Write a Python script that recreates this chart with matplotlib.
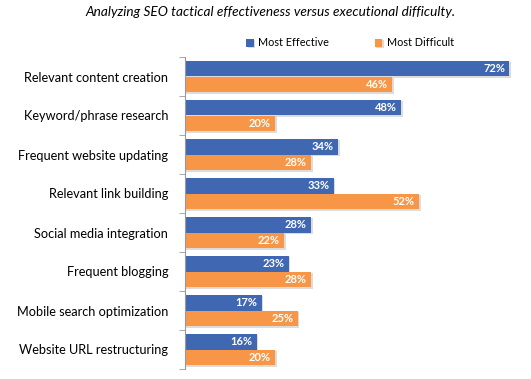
import matplotlib
matplotlib.use('Agg')
import matplotlib.pyplot as plt
import matplotlib.patheffects as pe
import numpy as np

categories = ['Relevant content creation', 'Keyword/phrase research',
              'Frequent website updating', 'Relevant link building',
              'Social media integration', 'Frequent blogging',
              'Mobile search optimization', 'Website URL restructuring']
most_effective = [72, 48, 34, 33, 28, 23, 17, 16]
most_difficult = [46, 20, 28, 52, 22, 28, 25, 20]

blue = '#4068B2'
orange = '#F79646'

plt.rcParams['font.family'] = ['Lato', 'DejaVu Sans']

fig = plt.figure(figsize=(5.31, 3.79), dpi=100)
ax = fig.add_axes([185 / 531, 1 - 369 / 379, 338 / 531, 312 / 379])

y = np.arange(len(categories))
h = 0.41
# light drop shadow like the office chart
shadow = [pe.SimplePatchShadow(offset=(1, -1), shadow_rgbFace='#bbbbbb', alpha=0.5), pe.Normal()]

b1 = ax.barh(y - h / 2, most_effective, height=h, color=blue, label='Most Effective',
             path_effects=shadow)
b2 = ax.barh(y + h / 2, most_difficult, height=h, color=orange, label='Most Difficult',
             path_effects=shadow)

for bars, vals in [(b1, most_effective), (b2, most_difficult)]:
    for bar, v in zip(bars, vals):
        ax.text(v - 1.0, bar.get_y() + bar.get_height() / 2, f'{v}%',
                ha='right', va='center', color='white', fontsize=8, fontweight='bold')

ax.set_xlim(0, 75)
ax.set_ylim(len(categories) - 0.5, -0.5)
ax.set_xticks([])
ax.set_yticks(y)
ax.set_yticklabels(categories, fontsize=9.2)
ax.tick_params(axis='y', which='major', length=0, pad=12)
ax.set_yticks(np.arange(len(categories) + 1) - 0.5, minor=True)
ax.tick_params(axis='y', which='minor', length=4, color='#999999')
for s in ['top', 'right', 'bottom']:
    ax.spines[s].set_visible(False)
ax.spines['left'].set_color('#999999')

fig.text(0.51, 0.968, 'Analyzing SEO tactical effectiveness versus executional difficulty.',
         ha='center', va='center', fontsize=9.8, style='italic')

leg = fig.legend(handles=[b1, b2], loc='center', bbox_to_anchor=(350 / 531, 1 - 43 / 379),
                 ncol=2, frameon=False, fontsize=7.8, handlelength=0.7, handleheight=0.7,
                 columnspacing=4.2, handletextpad=0.4)

fig.savefig('out.png', dpi=100)
